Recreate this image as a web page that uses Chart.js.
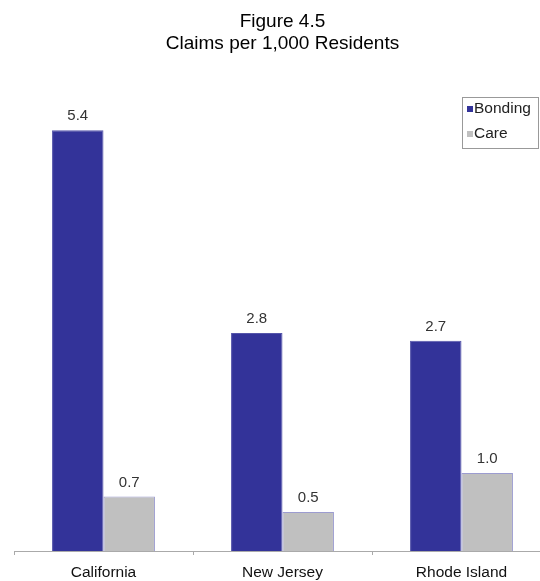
<!DOCTYPE html>
<html>
<head>
<meta charset="utf-8">
<script src="https://cdn.jsdelivr.net/npm/chart.js@4.4.0/dist/chart.umd.min.js"></script>
<style>
  html, body { margin: 0; padding: 0; background: #fff; overflow: hidden; }
  #wrap { width: 540px; height: 581px; overflow: hidden; }
</style>
</head>
<body>
<div id="wrap"><canvas id="c" width="560" height="581"></canvas></div>
<script>
const states = ['California', 'New Jersey', 'Rhode Island'];
const bonding = [5.4, 2.8, 2.7];
const care = [0.7, 0.5, 1.0];

const FONT = 'Liberation Sans, Arial, sans-serif';

// value labels above each bar
const valueLabels = {
  id: 'valueLabels',
  afterDatasetsDraw(chart) {
    const ctx = chart.ctx;
    ctx.save();
    ctx.font = '15px ' + FONT;
    ctx.fillStyle = '#333';
    ctx.textAlign = 'center';
    ctx.textBaseline = 'middle';
    chart.data.datasets.forEach((ds, i) => {
      chart.getDatasetMeta(i).data.forEach((bar, j) => {
        ctx.fillText(ds.data[j].toFixed(1), bar.x, bar.y - 14);
      });
    });
    ctx.restore();
  }
};

// boxed legend in the top-right corner
const boxLegend = {
  id: 'boxLegend',
  afterDraw(chart) {
    const ctx = chart.ctx;
    const x = 462, y = 97, w = 76, h = 51;
    ctx.save();
    ctx.strokeStyle = '#999';
    ctx.lineWidth = 1;
    ctx.strokeRect(x + 0.5, y + 0.5, w, h);
    ctx.font = '15.5px ' + FONT;
    ctx.textBaseline = 'middle';
    chart.data.datasets.forEach((ds, i) => {
      const ry = y + 12 + i * 25;
      ctx.fillStyle = ds.backgroundColor;
      ctx.fillRect(x + 5, ry - 3, 6, 6);
      ctx.fillStyle = '#222';
      ctx.fillText(ds.label, x + 12, ry);
    });
    ctx.restore();
  }
};

new Chart(document.getElementById('c'), {
  type: 'bar',
  data: {
    labels: states,
    datasets: [
      { label: 'Bonding', data: bonding, backgroundColor: '#333399', borderColor: '#5555aa', borderWidth: 1 },
      { label: 'Care', data: care, backgroundColor: '#c0c0c0', borderColor: '#9c9cd0', borderWidth: 1 }
    ]
  },
  options: {
    responsive: false,
    animation: false,
    devicePixelRatio: 1,
    layout: { padding: { left: 14, right: 9, top: 8, bottom: 0 } },
    datasets: { bar: { categoryPercentage: 0.575, barPercentage: 1.0 } },
    plugins: {
      legend: { display: false },
      tooltip: { enabled: false },
      title: {
        display: true,
        text: ['Figure 4.5', 'Claims per 1,000 Residents'],
        color: '#000',
        font: { family: FONT, size: 19, weight: 'normal', lineHeight: 1.2 },
        padding: { top: 2, bottom: 28 }
      }
    },
    scales: {
      x: {
        afterFit(scale) { scale.height = 30; },
        grid: { display: true, offset: true, drawOnChartArea: false, tickLength: 4, color: '#aaa' },
        border: { color: '#aaa' },
        ticks: { color: '#111', font: { family: FONT, size: 15.5 }, padding: 8 }
      },
      y: {
        display: false,
        min: 0,
        max: 6
      }
    }
  },
  plugins: [valueLabels, boxLegend]
});
</script>
</body>
</html>
